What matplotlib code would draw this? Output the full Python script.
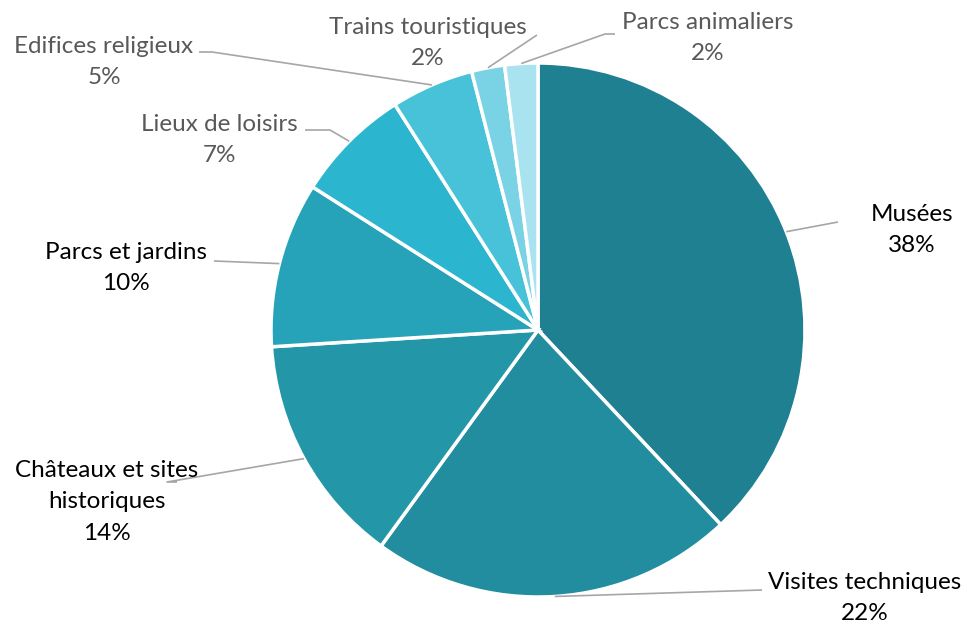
import numpy as np
import matplotlib.pyplot as plt

categories = ['Musées', 'Visites techniques', 'Châteaux et sites\nhistoriques', 'Parcs et jardins',
              'Lieux de loisirs', 'Edifices religieux', 'Trains touristiques', 'Parcs animaliers']
values = [38, 22, 14, 10, 7, 5, 2, 2]
colors = ['#1f8091', '#218d9e', '#2397a8', '#26a3b8', '#2bb5cf', '#47c2d8', '#7ad3e5', '#a9e3ef']

W, H = 967, 624
plt.rcParams['font.family'] = ['Lato', 'DejaVu Sans']

fig = plt.figure(figsize=(W / 100, H / 100), dpi=100)
ax = fig.add_axes([0, 0, 1, 1])

cx, cy, r = 538, H - 330, 267
wedges, _ = ax.pie(values, colors=colors, startangle=90, counterclock=False,
                   center=(cx, cy), radius=r, frame=True,
                   wedgeprops=dict(edgecolor='white', linewidth=2.5))
ax.set_xlim(0, W)
ax.set_ylim(0, H)
ax.set_aspect('equal')
ax.axis('off')

# label layout (image pixel coords, y down): text center, elbow, end of leader
layout = [
    dict(xy=(912, 230), pts=[(838, 222)], color='black'),
    dict(xy=(865, 598), pts=[(762, 590)], color='black'),
    dict(xy=(107, 502), pts=[(167, 482), (177, 482)], color='black'),
    dict(xy=(126, 268), pts=[(214, 261)], color='black'),
    dict(xy=(219, 140), pts=[(330, 130), (305, 130)], color='#595959'),
    dict(xy=(104, 62), pts=[(212, 52), (199, 52)], color='#595959'),
    dict(xy=(428, 43), pts=[(537, 35)], color='#595959'),
    dict(xy=(708, 38), pts=[(605, 34), (615, 34)], color='#595959'),
]

for w, cat, v, lay in zip(wedges, categories, values, layout):
    mid = np.deg2rad((w.theta1 + w.theta2) / 2)
    x0 = cx + r * np.cos(mid)
    y0 = cy + r * np.sin(mid)
    xs = [x0] + [p[0] for p in lay['pts']]
    ys = [y0] + [H - p[1] for p in lay['pts']]
    ax.plot(xs, ys, color='#a6a6a6', lw=1.2, solid_capstyle='butt')
    tx, ty = lay['xy']
    ax.text(tx, H - ty, f'{cat}\n{v}%', ha='center', va='center', fontsize=17.5,
            color=lay['color'], linespacing=1.6)

fig.savefig('out.png', dpi=100)
